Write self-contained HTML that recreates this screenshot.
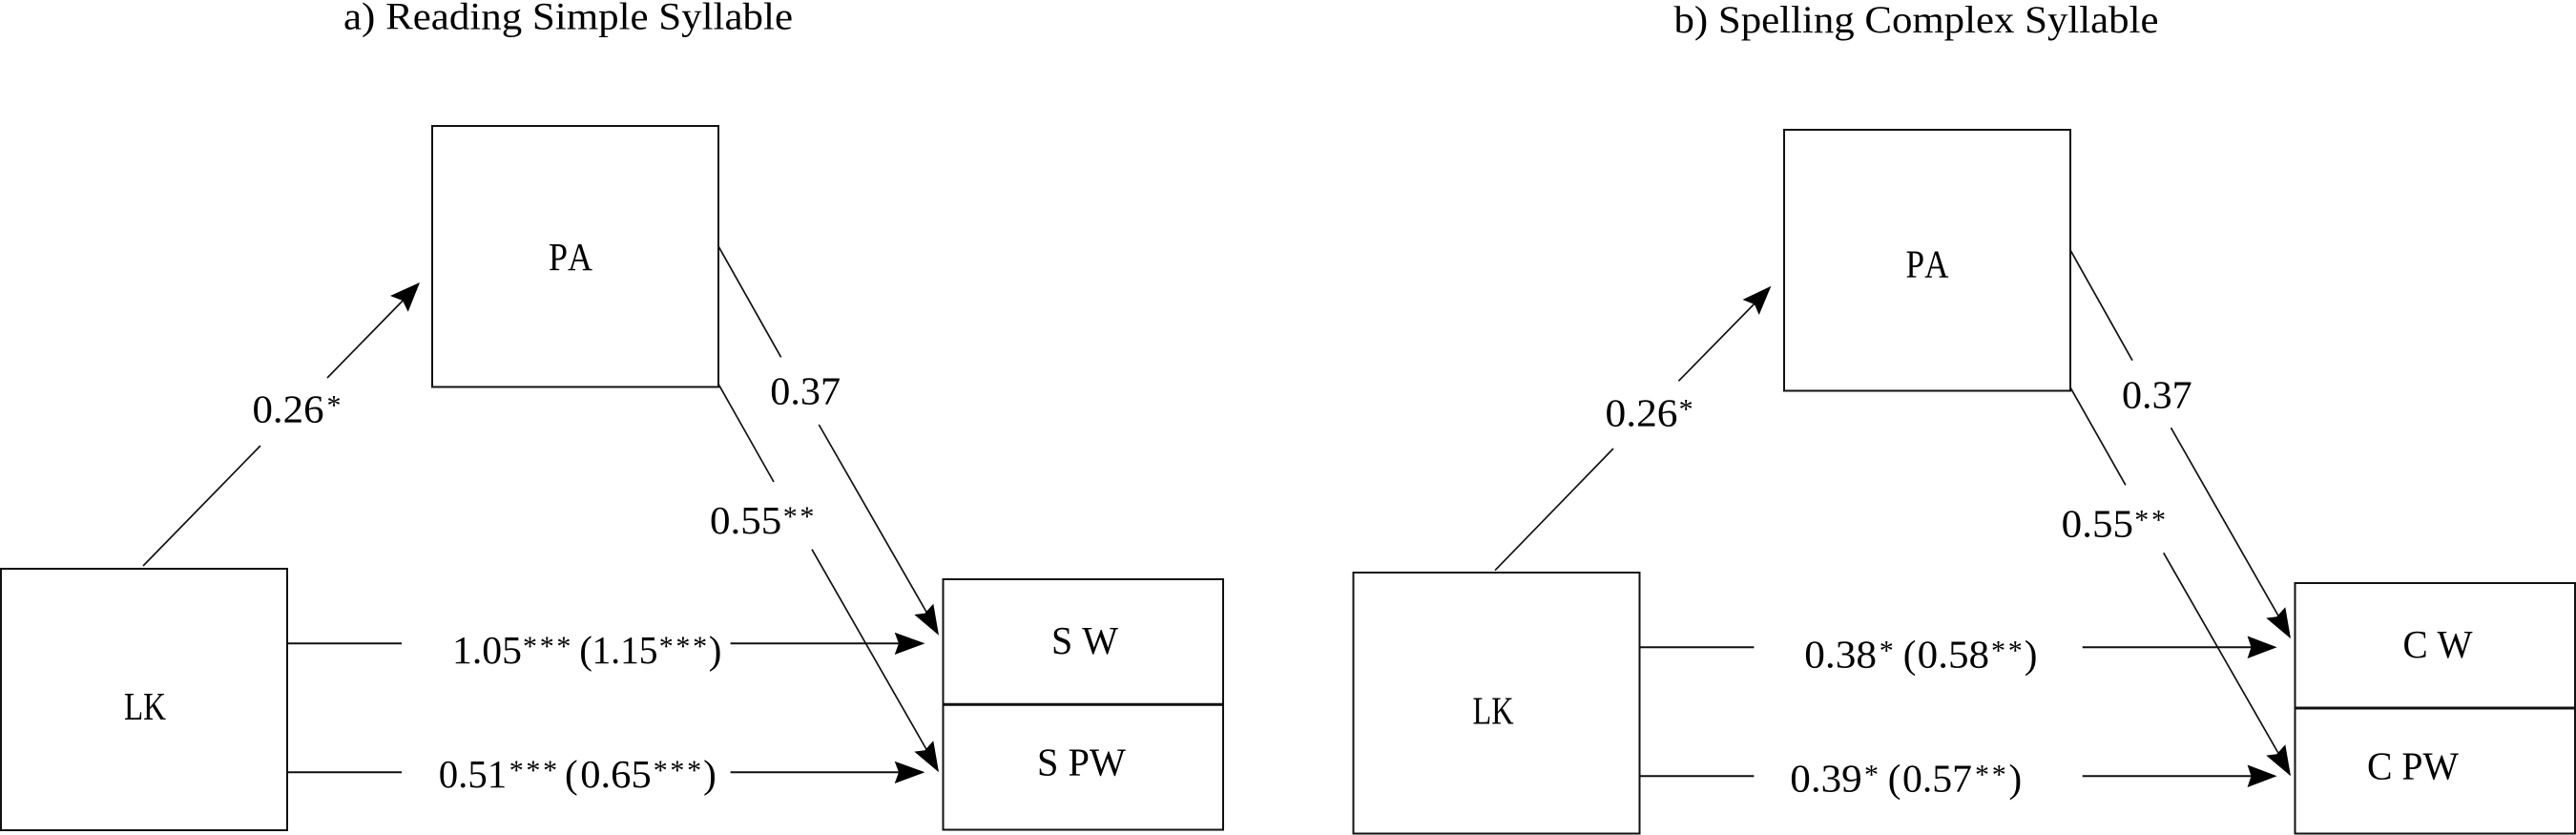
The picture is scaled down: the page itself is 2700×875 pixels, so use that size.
<!DOCTYPE html>
<html><head><meta charset="utf-8"><title>Reading and Spelling path diagrams</title>
<style>
html,body{margin:0;padding:0;background:#fff;width:2700px;height:875px;overflow:hidden}
svg{display:block}
text{font-family:"Liberation Serif",serif;font-size:41px;fill:#000;font-kerning:none}
.t{font-size:40px}
.s{font-size:30px;letter-spacing:2.7px}
rect{fill:none;stroke:#111;stroke-width:2}
line{stroke:#111;stroke-width:1.7}
line.h{stroke-width:2}
polygon{fill:#000}
</style></head><body>
<svg width="2700" height="875" viewBox="0 0 2700 875" xmlns="http://www.w3.org/2000/svg">
<!-- left -->
<text class="t" x="360" y="30.7" textLength="471" lengthAdjust="spacingAndGlyphs">a) Reading Simple Syllable</text>
<rect x="453" y="132" width="300" height="273.5"/>
<rect x="1" y="596" width="300" height="274"/>
<rect x="988.5" y="607" width="293.5" height="262.5"/>
<line x1="988" y1="738.3" x2="1282" y2="738.3" style="stroke-width:3"/>
<text x="575" y="283" textLength="46" lengthAdjust="spacingAndGlyphs">PA</text>
<text x="130" y="754" textLength="44" lengthAdjust="spacingAndGlyphs">LK</text>
<text x="1102" y="685" textLength="70" lengthAdjust="spacingAndGlyphs">S W</text>
<text x="1087" y="812.3" textLength="93" lengthAdjust="spacingAndGlyphs">S PW</text>

<line x1="150" y1="593" x2="273" y2="467"/>
<line x1="343" y1="396" x2="428" y2="309"/>
<polygon points="440,296 427.7,326.7 422,315 409,310"/>
<line x1="752.6" y1="257.3" x2="818.6" y2="374.3"/>
<line x1="858.3" y1="445" x2="972" y2="643"/>
<polygon points="984,665.7 958.3,644 969.3,642.7 978.3,632.7"/>
<line x1="752.6" y1="401.7" x2="811" y2="505"/>
<line x1="851" y1="575.7" x2="972" y2="787"/>
<polygon points="984,809.3 958.3,787.6 969.3,786.3 978.3,776.3"/>
<line class="h" x1="301" y1="674.3" x2="421" y2="674.3"/>
<line class="h" x1="765.6" y1="674.3" x2="945" y2="674.3"/>
<polygon points="969.5,674.3 937.7,686 942,674.3 937.7,662.7"/>
<line class="h" x1="301" y1="809.3" x2="421" y2="809.3"/>
<line class="h" x1="765.6" y1="809.3" x2="945" y2="809.3"/>
<polygon points="969.5,809.3 937.7,821 942,809.3 937.7,797.7"/>

<text x="264.5" y="442.7" textLength="75" lengthAdjust="spacingAndGlyphs">0.26</text>
<text class="s" x="342.5" y="434.7">*</text>
<text x="807.3" y="423.3" textLength="73.7" lengthAdjust="spacingAndGlyphs">0.37</text>
<text x="744" y="559" textLength="75.3" lengthAdjust="spacingAndGlyphs">0.55</text>
<text class="s" x="820.7" y="551">**</text>

<text x="474" y="695" textLength="73" lengthAdjust="spacingAndGlyphs">1.05</text>
<text class="s" x="548" y="687">***</text>
<text x="607.3" y="695">(</text>
<text x="620.5" y="695" textLength="69" lengthAdjust="spacingAndGlyphs">1.15</text>
<text class="s" x="690.7" y="687">***</text>
<text x="742.8" y="695">)</text>

<text x="459.7" y="825" textLength="71.5" lengthAdjust="spacingAndGlyphs">0.51</text>
<text class="s" x="533.7" y="817">***</text>
<text x="592" y="825">(</text>
<text x="608.3" y="825" textLength="74.4" lengthAdjust="spacingAndGlyphs">0.65</text>
<text class="s" x="684.7" y="817">***</text>
<text x="737.1" y="825">)</text>

<!-- right -->
<text class="t" x="1754.5" y="34" textLength="508" lengthAdjust="spacingAndGlyphs">b) Spelling Complex Syllable</text>
<rect x="1870" y="136" width="300" height="273.5"/>
<rect x="1418.5" y="600" width="300" height="273.5"/>
<rect x="2405.5" y="611" width="293.5" height="262.5"/>
<line x1="2405" y1="742" x2="2699" y2="742" style="stroke-width:3"/>
<text x="1997.5" y="290.7" textLength="45" lengthAdjust="spacingAndGlyphs">PA</text>
<text x="1543.5" y="758.3" textLength="43" lengthAdjust="spacingAndGlyphs">LK</text>
<text x="2518.5" y="689" textLength="73" lengthAdjust="spacingAndGlyphs">C W</text>
<text x="2481" y="816.7" textLength="96" lengthAdjust="spacingAndGlyphs">C PW</text>

<line x1="1567" y1="597.7" x2="1691" y2="470"/>
<line x1="1759.4" y1="399.3" x2="1845" y2="312"/>
<polygon points="1856.4,299.7 1843.7,330 1839,319 1826.5,314"/>
<line x1="2169.8" y1="261.7" x2="2235" y2="377.7"/>
<line x1="2275.5" y1="448.3" x2="2389" y2="647"/>
<polygon points="2401,669.3 2375.3,647.6 2386.3,646.3 2395.3,636.3"/>
<line x1="2169.8" y1="405.7" x2="2227.9" y2="508.3"/>
<line x1="2267.7" y1="579.3" x2="2389" y2="791"/>
<polygon points="2401,813.3 2375.3,791.6 2386.3,790.3 2395.3,780.3"/>
<line class="h" x1="1718" y1="678.3" x2="1838.4" y2="678.3"/>
<line class="h" x1="2182.7" y1="678.3" x2="2362" y2="678.3"/>
<polygon points="2386.6,678.3 2355.6,690 2359.5,678.3 2355.6,666.5"/>
<line class="h" x1="1718" y1="813.3" x2="1838.4" y2="813.3"/>
<line class="h" x1="2182.7" y1="813.3" x2="2362" y2="813.3"/>
<polygon points="2386.6,813.3 2355.6,825 2359.5,813.3 2355.6,801.5"/>

<text x="1682.5" y="446.7" textLength="76" lengthAdjust="spacingAndGlyphs">0.26</text>
<text class="s" x="1759.6" y="438.7">*</text>
<text x="2224" y="427.3" textLength="73.7" lengthAdjust="spacingAndGlyphs">0.37</text>
<text x="2160.7" y="562.7" textLength="75.3" lengthAdjust="spacingAndGlyphs">0.55</text>
<text class="s" x="2237.3" y="554.7">**</text>

<text x="1891.3" y="699.3" textLength="75.7" lengthAdjust="spacingAndGlyphs">0.38</text>
<text class="s" x="1969.7" y="691.3">*</text>
<text x="1994.7" y="699.3">(</text>
<text x="2009.7" y="699.3" textLength="75.3" lengthAdjust="spacingAndGlyphs">0.58</text>
<text class="s" x="2087" y="691.3">**</text>
<text x="2121.8" y="699.3">)</text>

<text x="1876.3" y="829.3" textLength="75.4" lengthAdjust="spacingAndGlyphs">0.39</text>
<text class="s" x="1954" y="821.3">*</text>
<text x="1978.7" y="829.3">(</text>
<text x="1994" y="829.3" textLength="73" lengthAdjust="spacingAndGlyphs">0.57</text>
<text class="s" x="2070" y="821.3">**</text>
<text x="2105.5" y="829.3">)</text>
</svg>
</body></html>
